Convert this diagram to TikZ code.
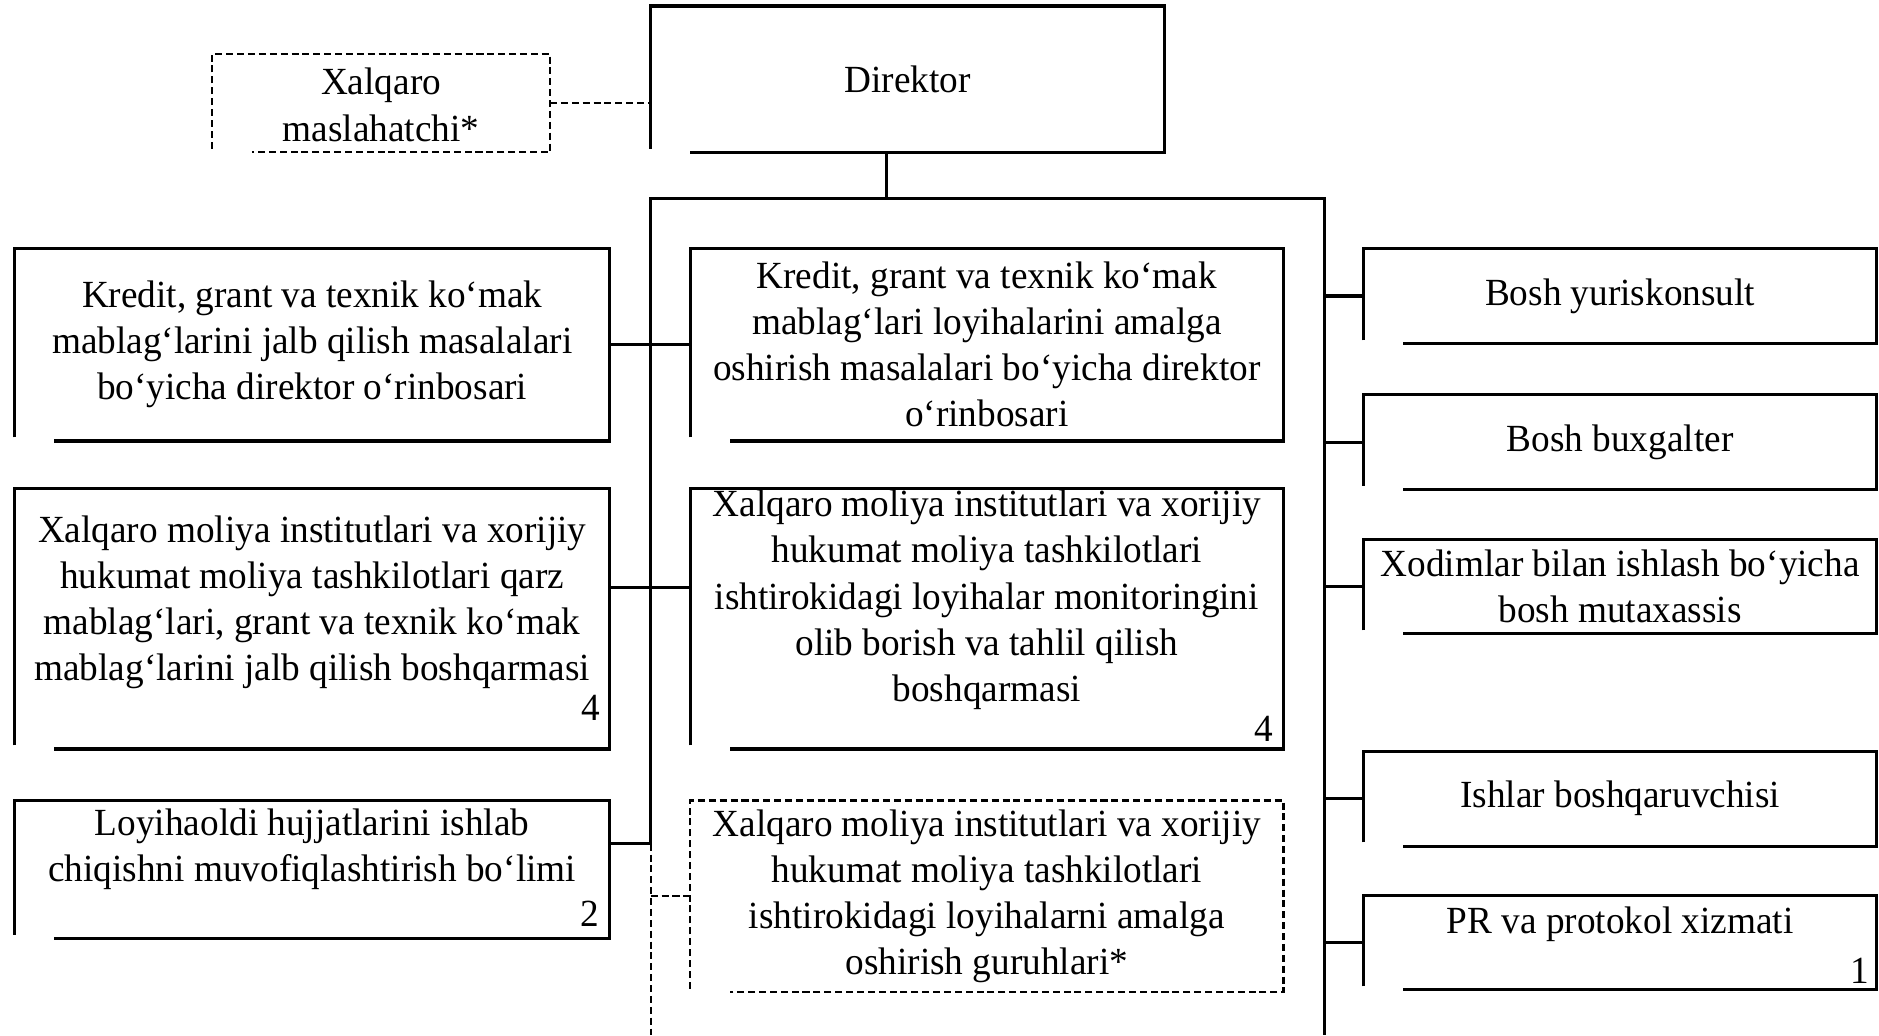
\documentclass[tikz,border=0pt]{standalone}
\usepackage{fontspec}
\setmainfont{Liberation Serif}[FakeStretch=0.97]
\def\pxu{0.3745pt}

\begin{document}
\begin{tikzpicture}[x=0.3745pt, y=-0.3745pt, line width=0.95pt,
  box/.style={inner sep=0pt, outer sep=0pt},
  txt/.style={align=center, inner sep=0pt, font=\fontsize{12}{14.4}\selectfont},
  num/.style={anchor=base east, inner sep=0pt, font=\fontsize{12}{14.4}\selectfont},
  dashline/.style={line width=0.7pt, dash pattern=on 2.2pt off 1.2pt}]
  \useasboundingbox (0,0) rectangle (1568,864);
  % Top: director and adviser
  \node[box, minimum width=282*\pxu, minimum height=82*\pxu] (mas) at (318,86) {};
  \node[box, minimum width=429*\pxu, minimum height=122*\pxu] (dir) at (757.5,66) {};
  % Left column
  \node[box, minimum width=497*\pxu, minimum height=161*\pxu] (l1) at (260.5,287.5) {};
  \node[box, minimum width=497*\pxu, minimum height=217*\pxu] (l2) at (260.5,516.5) {};
  \node[box, minimum width=497*\pxu, minimum height=115*\pxu] (l3) at (260.5,725.5) {};
  % Middle column
  \node[box, minimum width=495*\pxu, minimum height=161*\pxu] (m1) at (823.5,287.5) {};
  \node[box, minimum width=495*\pxu, minimum height=217*\pxu] (m2) at (823.5,516.5) {};
  \node[box, minimum width=495*\pxu, minimum height=160*\pxu] (m3) at (823.5,748) {};
  % Right column
  \node[box, minimum width=428*\pxu, minimum height=80*\pxu] (r1) at (1352,247) {};
  \node[box, minimum width=428*\pxu, minimum height=79*\pxu] (r2) at (1352,369) {};
  \node[box, minimum width=428*\pxu, minimum height=79*\pxu] (r3) at (1352,489.5) {};
  \node[box, minimum width=428*\pxu, minimum height=79*\pxu] (r4) at (1352,666.5) {};
  \node[box, minimum width=428*\pxu, minimum height=79*\pxu] (r5) at (1352,786.5) {};
  % Box outlines (open at the lower left corner)
  \foreach \n in {dir,l1,l2,l3,m1,m2,r1,r2,r3,r4,r5}
    \draw ([yshift=3*\pxu]\n.south west) |- (\n.north east) |- ([xshift=33*\pxu]\n.south west);
  \foreach \n in {mas,m3}
    \draw[dashline] ([yshift=3*\pxu]\n.south west) |- (\n.north east) |- ([xshift=33*\pxu]\n.south west);
  % Texts
  \node[txt, yshift=-1.5*\pxu] (mast) at (mas.center) {Xalqaro\\maslahatchi*};
  \node[txt] (dirt) at (dir.center) {Direktor};
  \node[txt] (l1t) at (l1.center) {Kredit, grant va texnik ko‘mak\\mablag‘larini jalb qilish masalalari\\bo‘yicha direktor o‘rinbosari};
  \node[txt, yshift=14*\pxu] (l2t) at (l2.center) {Xalqaro moliya institutlari va xorijiy\\hukumat moliya tashkilotlari qarz\\mablag‘lari, grant va texnik ko‘mak\\mablag‘larini jalb qilish boshqarmasi};
  \node[txt, yshift=16.5*\pxu] (l3t) at (l3.center) {Loyihaoldi hujjatlarini ishlab\\chiqishni muvofiqlashtirish bo‘limi};
  \node[txt] (m1t) at (m1.center) {Kredit, grant va texnik ko‘mak\\mablag‘lari loyihalarini amalga\\oshirish masalalari bo‘yicha direktor\\o‘rinbosari};
  \node[txt, yshift=16*\pxu] (m2t) at (m2.center) {Xalqaro moliya institutlari va xorijiy\\hukumat moliya tashkilotlari\\ishtirokidagi loyihalar monitoringini\\olib borish va tahlil qilish\\boshqarmasi};
  \node[txt] (m3t) at (m3.center) {Xalqaro moliya institutlari va xorijiy\\hukumat moliya tashkilotlari\\ishtirokidagi loyihalarni amalga\\oshirish guruhlari*};
  \node[txt] (r1t) at (r1.center) {Bosh yuriskonsult};
  \node[txt] (r2t) at (r2.center) {Bosh buxgalter};
  \node[txt] (r3t) at (r3.center) {Xodimlar bilan ishlash bo‘yicha\\bosh mutaxassis};
  \node[txt] (r4t) at (r4.center) {Ishlar boshqaruvchisi};
  \node[txt, yshift=15.5*\pxu] (r5t) at (r5.center) {PR va protokol xizmati};
  % Staff numbers
  \node[num] (l2n) at (502,601) {4};
  \node[num] (l3n) at (501,773) {2};
  \node[num] (m2n) at (1064,619) {4};
  \node[num] (r5n) at (1561,821) {1};
  % Frame round the subordinate units
  \coordinate (fnw) at (543,166);
  \coordinate (fne) at (1105,166);
  \coordinate (fsw) at (543,864);
  \coordinate (fse) at (1105,864);
  \coordinate (l3j) at ([yshift=21.5*\pxu]l3.east -| fnw);
  \draw (l3j) -- (fnw) -- (fne) -- (fse);
  \draw[dashline] (l3j) -- (fsw);
  % Connectors
  \draw[dashline] (mas.east) -- (mas.east -| dir.west);
  \draw ([xshift=-17.5*\pxu]dir.south) coordinate (dj) -- (dj |- fnw);
  \draw (l1.east) -- (m1.west);
  \draw ([yshift=26.5*\pxu]l2.east) -- ([yshift=26.5*\pxu]m2.west);
  \draw ([yshift=21.5*\pxu]l3.east) -- (l3j);
  \draw[dashline] (m3.west -| fnw) -- (m3.west);
  \foreach \n in {r1,r2,r3,r4,r5}
    \draw (\n.west -| fne) -- (\n.west);
\end{tikzpicture}
\end{document}
